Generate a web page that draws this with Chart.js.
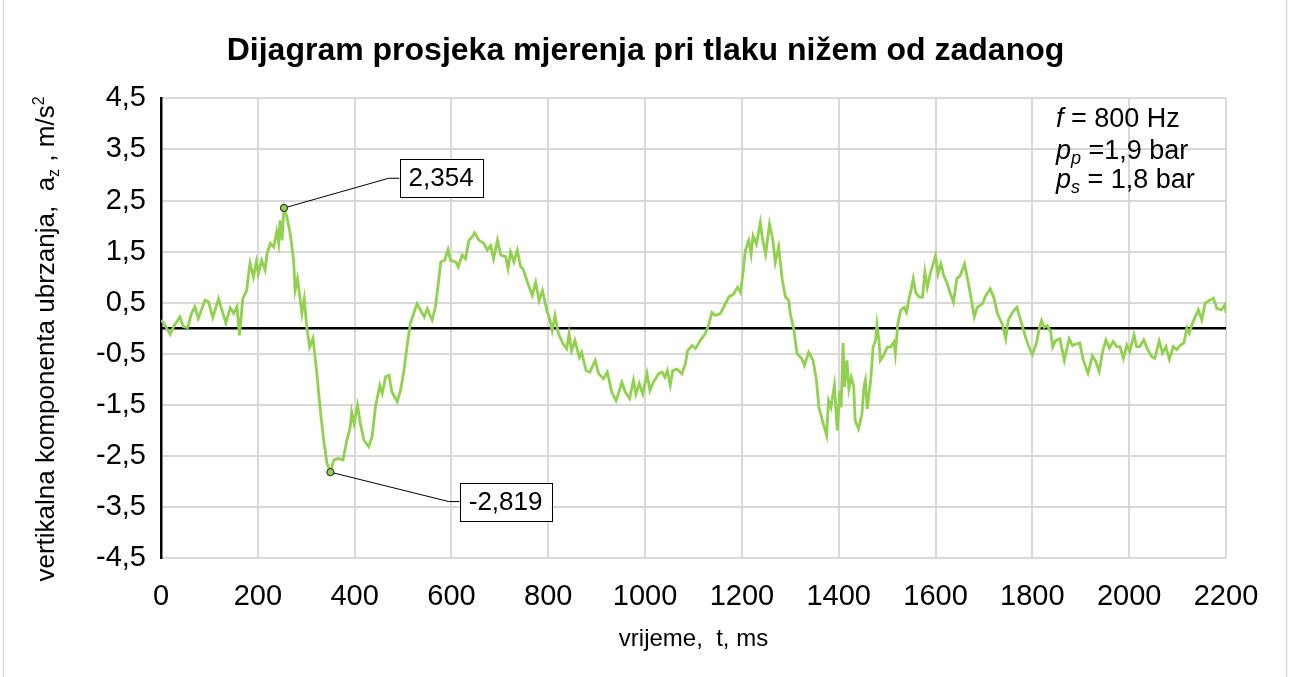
<!DOCTYPE html>
<html><head><meta charset="utf-8">
<script src="https://cdn.jsdelivr.net/npm/chart.js@4.4.1/dist/chart.umd.min.js"></script>
<style>html,body{margin:0;padding:0;background:#fff;} #wrap{width:1291px;height:677px;position:relative;}</style>
</head><body><div id="wrap"><canvas id="c" width="1291" height="677"></canvas></div>
<script>
const timeMs = [0,8,19,26,39,46,55,63,70,77,91,98,107,119,126,134,143,150,157,162,169,177,181,184,191,197,201,208,215,219,226,233,239,243,246,250,254,260,267,274,277,282,286,291,296,301,307,314,322,329,336,343,350,357,367,376,384,391,394,399,406,412,419,429,436,443,452,457,464,471,477,488,495,502,509,515,522,529,536,544,550,560,567,572,578,586,593,598,609,614,622,629,636,643,648,657,667,674,681,687,695,702,712,717,722,729,736,743,748,757,767,774,781,788,797,803,808,814,821,831,838,843,848,855,864,869,878,886,897,904,914,922,931,940,947,952,959,968,976,981,988,995,1004,1010,1017,1028,1035,1041,1046,1052,1057,1066,1076,1083,1088,1097,1104,1114,1124,1131,1138,1145,1155,1162,1173,1183,1191,1197,1202,1207,1214,1219,1223,1230,1238,1242,1249,1257,1264,1269,1276,1283,1290,1297,1300,1307,1314,1324,1329,1338,1347,1354,1359,1368,1375,1379,1384,1391,1397,1402,1405,1409,1412,1417,1421,1426,1431,1434,1441,1448,1452,1455,1459,1466,1471,1476,1479,1483,1486,1493,1500,1507,1514,1517,1522,1528,1535,1540,1545,1550,1554,1559,1566,1573,1578,1583,1590,1595,1600,1605,1611,1617,1624,1631,1637,1644,1651,1660,1666,1673,1680,1686,1697,1704,1713,1720,1728,1738,1745,1750,1757,1762,1768,1776,1786,1793,1800,1809,1814,1819,1824,1831,1838,1842,1848,1857,1866,1876,1883,1890,1898,1905,1915,1924,1931,1938,1945,1952,1959,1967,1974,1981,1988,1995,2001,2010,2015,2022,2030,2037,2046,2053,2062,2069,2076,2083,2091,2098,2106,2113,2119,2124,2132,2143,2150,2157,2167,2174,2181,2191,2198,2200];
const accel = [0.16,0.06,-0.12,0.03,0.22,0.03,0.01,0.29,0.42,0.19,0.55,0.52,0.21,0.58,0.35,0.10,0.40,0.29,0.42,-0.14,0.58,0.74,1.07,1.27,1.00,1.30,1.07,1.33,1.14,1.46,1.66,1.59,1.89,1.66,2.11,1.72,2.354,2.18,1.85,1.33,0.74,0.97,0.68,0.29,0.58,0.03,-0.37,-0.20,-0.89,-1.60,-2.19,-2.65,-2.819,-2.58,-2.55,-2.58,-2.19,-1.93,-1.64,-1.87,-1.51,-1.87,-2.19,-2.32,-2.13,-1.54,-1.12,-1.28,-0.95,-0.92,-1.25,-1.44,-1.21,-0.82,-0.30,0.09,0.29,0.48,0.35,0.22,0.38,0.16,0.42,0.81,1.30,1.33,1.54,1.33,1.30,1.20,1.43,1.36,1.72,1.79,1.87,1.72,1.66,1.53,1.62,1.36,1.72,1.43,1.40,1.17,1.49,1.30,1.53,1.20,1.16,0.90,0.64,0.90,0.54,0.74,0.35,0.18,-0.05,0.25,-0.11,-0.31,-0.40,-0.11,-0.44,-0.24,-0.57,-0.47,-0.83,-0.86,-0.63,-0.89,-0.99,-0.86,-1.25,-1.42,-1.22,-1.06,-1.25,-1.38,-1.02,-1.29,-1.08,-1.29,-0.89,-1.22,-1.06,-0.89,-0.86,-0.96,-0.83,-1.12,-0.83,-0.80,-0.89,-0.70,-0.44,-0.34,-0.40,-0.24,-0.11,0.05,0.31,0.25,0.28,0.41,0.61,0.67,0.80,0.70,1.06,1.52,1.72,1.45,1.81,1.65,2.07,1.78,1.45,2.04,1.72,1.29,1.59,0.97,0.61,0.54,0.28,-0.01,-0.50,-0.60,-0.73,-0.47,-0.63,-1.02,-1.55,-1.87,-2.10,-1.42,-1.55,-1.12,-2.00,-1.22,-1.55,-0.29,-1.15,-0.63,-1.19,-0.96,-1.15,-1.81,-1.97,-1.68,-1.15,-1.02,-1.58,-1.02,-0.37,-0.24,0.07,-0.24,-0.63,-0.53,-0.37,-0.37,-0.27,-0.50,0.08,0.35,0.41,0.31,0.57,0.77,0.97,0.70,0.61,0.61,1.10,0.80,1.10,1.26,1.42,1.06,1.26,1.03,0.87,0.67,0.51,0.97,1.03,1.26,0.97,0.61,0.22,0.41,0.48,0.64,0.77,0.61,0.28,0.08,-0.21,0.15,0.28,0.35,0.41,0.15,-0.18,-0.37,-0.52,-0.27,-0.01,0.15,0.02,0.05,-0.08,-0.37,-0.24,-0.21,-0.63,-0.21,-0.34,-0.31,-0.29,-0.62,-0.88,-0.54,-0.65,-0.85,-0.46,-0.23,-0.39,-0.26,-0.36,-0.36,-0.59,-0.33,-0.46,-0.13,-0.36,-0.36,-0.23,-0.39,-0.55,-0.59,-0.25,-0.49,-0.36,-0.61,-0.36,-0.42,-0.33,-0.29,0.00,-0.10,0.13,0.36,0.16,0.49,0.55,0.59,0.39,0.36,0.46,0.30];
const xTickValues = [0,200,400,600,800,1000,1200,1400,1600,1800,2000,2200];
const yTickValues = [-4.5,-3.5,-2.5,-1.5,-0.5,0.5,1.5,2.5,3.5,4.5];
const calloutValues = [2.354, -2.819];
const chartTitle = 'Dijagram prosjeka mjerenja pri tlaku nižem od zadanog';
const xAxisTitle = 'vrijeme,  t, ms';
const yAxisTitleParts = ['vertikalna komponenta ubrzanja,  a', 'z', ' , m/s', '2'];
const infoLines = [
  {sym:'f', sub:'', rest:' = 800 Hz'},
  {sym:'p', sub:'p', rest:' =1,9 bar'},
  {sym:'p', sub:'s', rest:' = 1,8 bar'}
];

const FONT = "'Liberation Sans', Arial, sans-serif";
const fmt = v => v.toFixed(3).replace('.', ',');

const bgPlugin = {
  id: 'bg',
  beforeDraw(chart) {
    const c = chart.ctx;
    c.save();
    c.fillStyle = '#fff';
    c.fillRect(0, 0, chart.width, chart.height);
    c.strokeStyle = '#d9d9d9';
    c.lineWidth = 1.5;
    c.beginPath();
    c.moveTo(3.5, 0); c.lineTo(3.5, chart.height);
    c.moveTo(1286.5, 0); c.lineTo(1286.5, chart.height);
    c.stroke();
    c.restore();
  }
};

const zeroLinePlugin = {
  id: 'zeroLine',
  beforeDatasetsDraw(chart) {
    const c = chart.ctx, a = chart.chartArea;
    const y = chart.scales.y.getPixelForValue(0);
    c.save();
    c.strokeStyle = '#000';
    c.lineWidth = 2.5;
    c.beginPath(); c.moveTo(a.left, y); c.lineTo(a.right, y); c.stroke();
    c.restore();
  }
};

const calloutPlugin = {
  id: 'callouts',
  afterDatasetsDraw(chart) {
    const c = chart.ctx;
    const meta = chart.getDatasetMeta(0);
    const cfg = [
      {dx: 104.6, dy: -29.7},
      {dx: 118.3, dy: 29.4}
    ];
    calloutValues.forEach((v, k) => {
      const idx = accel.indexOf(v);
      const pt = meta.data[idx];
      const ex = pt.x + cfg[k].dx, ey = pt.y + cfg[k].dy;
      const txt = fmt(v);
      c.save();
      c.font = '26px ' + FONT;
      const w = c.measureText(txt).width + 18;
      const h = 38;
      const bx = ex + 11;
      c.strokeStyle = '#000';
      c.lineWidth = 1;
      c.beginPath(); c.moveTo(pt.x, pt.y); c.lineTo(ex, ey); c.lineTo(bx, ey); c.stroke();
      c.fillStyle = '#fff';
      c.fillRect(bx, ey - h / 2, w, h);
      c.strokeRect(Math.round(bx) + 0.5, Math.round(ey - h / 2) + 0.5, Math.round(w), h);
      c.fillStyle = '#000';
      c.textAlign = 'center';
      c.textBaseline = 'middle';
      c.fillText(txt, bx + w / 2, ey + 1);
      c.beginPath();
      c.arc(pt.x, pt.y, 3.5, 0, Math.PI * 2);
      c.fillStyle = '#92D050';
      c.fill();
      c.strokeStyle = '#333';
      c.stroke();
      c.restore();
    });
  }
};

const textPlugin = {
  id: 'texts',
  afterDraw(chart) {
    const c = chart.ctx;
    c.save();
    const fs = 26;
    c.translate(45, 339);
    c.rotate(-Math.PI / 2);
    c.fillStyle = '#000';
    c.textBaseline = 'alphabetic';
    const big = fs + 'px ' + FONT, small = Math.round(fs * 0.6) + 'px ' + FONT;
    c.font = big; const w0 = c.measureText(yAxisTitleParts[0]).width;
    c.font = small; const w1 = c.measureText(yAxisTitleParts[1]).width;
    c.font = big; const w2 = c.measureText(yAxisTitleParts[2]).width;
    c.font = small; const w3 = c.measureText(yAxisTitleParts[3]).width;
    let x = -(w0 + w1 + w2 + w3) / 2;
    const base = 9;
    c.font = big; c.fillText(yAxisTitleParts[0], x, base); x += w0;
    c.font = small; c.fillText(yAxisTitleParts[1], x, base + 5); x += w1;
    c.font = big; c.fillText(yAxisTitleParts[2], x, base); x += w2;
    c.font = small; c.fillText(yAxisTitleParts[3], x, base - 10);
    c.restore();

    c.save();
    c.fillStyle = '#000';
    const ifs = 27;
    const baselines = [127, 159, 188];
    infoLines.forEach((ln, i) => {
      let xx = 1056;
      const y = baselines[i];
      c.font = 'italic ' + ifs + 'px ' + FONT;
      c.fillText(ln.sym, xx, y); xx += c.measureText(ln.sym).width;
      if (ln.sub) {
        c.font = 'italic ' + Math.round(ifs * 0.65) + 'px ' + FONT;
        c.fillText(ln.sub, xx, y + 5); xx += c.measureText(ln.sub).width;
      }
      c.font = ifs + 'px ' + FONT;
      c.fillText(ln.rest, xx, y);
    });
    c.restore();
  }
};

new Chart(document.getElementById('c'), {
  type: 'line',
  data: {
    datasets: [{
      data: timeMs.map((t, i) => ({x: t, y: accel[i]})),
      borderColor: '#92D050',
      borderWidth: 2.8,
      tension: 0,
      pointRadius: ctx => (ctx.raw && calloutValues.includes(ctx.raw.y)) ? 3.5 : 0,
      pointBackgroundColor: '#92D050',
      pointBorderColor: '#333',
      pointBorderWidth: 1,
      pointHoverRadius: 0
    }]
  },
  options: {
    responsive: false,
    animation: false,
    devicePixelRatio: 1,
    events: [],
    layout: {padding: {left: 0, right: 0, top: 0, bottom: 0}},
    plugins: {
      legend: {display: false},
      tooltip: {enabled: false},
      title: {
        display: true,
        text: chartTitle,
        color: '#000',
        font: {family: FONT, size: 32, weight: 'bold'},
        padding: {top: 32, bottom: 28}
      }
    },
    scales: {
      x: {
        type: 'linear',
        min: 0, max: 2200,
        afterBuildTicks: s => { s.ticks = xTickValues.map(v => ({value: v})); },
        afterFit: s => { s.height = 119; },
        ticks: {
          font: {family: FONT, size: 29}, color: '#000', padding: 22,
          maxRotation: 0, autoSkip: false, callback: v => String(v)
        },
        grid: {
          color: ctx => (ctx.tick && ctx.tick.value === 0) ? 'rgba(0,0,0,0)' : '#d9d9d9',
          lineWidth: 2, drawTicks: false
        },
        border: {display: false},
        title: {
          display: true, text: xAxisTitle, color: '#000',
          font: {family: FONT, size: 24}, padding: {top: 0, bottom: 23}
        }
      },
      y: {
        type: 'linear',
        min: -4.5, max: 4.5,
        afterBuildTicks: s => { s.ticks = yTickValues.map(v => ({value: v})); },
        afterFit: s => { s.width = 161; },
        ticks: {
          font: {family: FONT, size: 29}, color: '#000', padding: 15,
          callback: v => v.toFixed(1).replace('.', ',')
        },
        grid: {color: '#d9d9d9', lineWidth: 2, drawTicks: false},
        border: {display: true, color: '#000', width: 2.5}
      },
      yRight: {
        type: 'linear',
        position: 'right',
        min: -4.5, max: 4.5,
        display: true,
        afterFit: s => { s.width = 65; },
        ticks: {display: false},
        grid: {display: false, drawTicks: false},
        border: {display: false}
      }
    }
  },
  plugins: [bgPlugin, zeroLinePlugin, calloutPlugin, textPlugin]
});
</script>
</body></html>
